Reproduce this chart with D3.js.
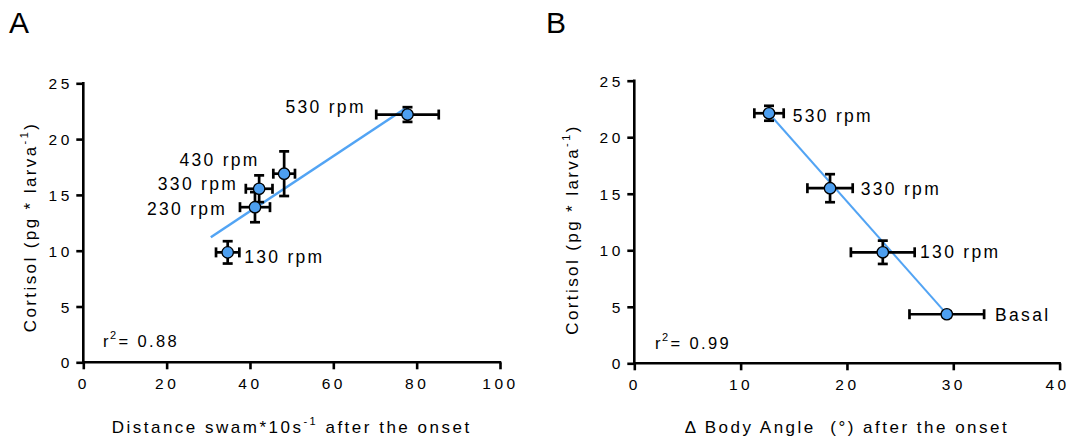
<!DOCTYPE html>
<html>
<head>
<meta charset="utf-8">
<script src="https://cdn.jsdelivr.net/npm/d3@7"></script>
<style>
  html, body { margin: 0; padding: 0; background: #fff; }
  svg { display: block; font-family: "Liberation Sans", Arial, Helvetica, sans-serif; }
</style>
</head>
<body>
<svg id="chart" width="1070" height="441"></svg>
<script>
// ---------------- DATA ----------------
// Panel A: distance swam vs cortisol
const labelsA   = ["130 rpm", "230 rpm", "330 rpm", "430 rpm", "530 rpm"];
const distA     = [34.65, 41.2, 42.2, 48.2, 77.8];
const distErrA  = [2.8, 3.6, 3.2, 2.6, 7.5];
const cortA     = [9.85, 13.9, 15.55, 16.9, 22.2];
const cortErrA  = [1.0, 1.35, 1.2, 2.0, 0.66];
const fitXA     = [30.6, 77.7];
const fitYA     = [11.2, 22.85];
const r2A       = "0.88";

// Panel B: delta body angle vs cortisol
const labelsB   = ["530 rpm", "330 rpm", "130 rpm", "Basal"];
const angleB    = [12.67, 18.41, 23.37, 29.39];
const angleErrB = [1.38, 2.13, 3.0, 3.51];
const cortB     = [22.12, 15.49, 9.82, 4.34];
const cortErrB  = [0.66, 1.24, 1.03, 0.25];
const fitXB     = [12.67, 29.39];
const fitYB     = [22.1, 4.35];
const r2B       = "0.99";

// Tick values
const yTicks  = [0, 5, 10, 15, 20, 25];
const xTicksA = [0, 20, 40, 60, 80, 100];
const xTicksB = [0, 10, 20, 30, 40];

// ---------------- LAYOUT ----------------
const svg = d3.select("#chart");
const FONT = '"Liberation Sans", Arial, Helvetica, sans-serif';
const MARKER = "#4d9ff0";
const LINE = "#52a4f4";

const panels = [
  {
    letter: "A", letterX: 9, letterY: 33.3,
    x: d3.scaleLinear().domain([0, 100]).range([83.3, 500]),
    y: d3.scaleLinear().domain([0, 25]).range([362.3, 83.3]),
    xTicks: xTicksA,
    xs: distA, xe: distErrA, ys: cortA, ye: cortErrA, labels: labelsA,
    fitX: fitXA, fitY: fitYA, fitW: 2.5, r2: r2A,
    r2X: 103, r2Y: 346.7,
    labelPos: [
      {anchor: "start", dx: 16.5, dy: 10.3},
      {anchor: "end", dx: -30, dy: 8.3},
      {anchor: "end", dx: -23.3, dy: 1},
      {anchor: "end", dx: -26.7, dy: -7.6},
      {anchor: "end", dx: -44, dy: -1.6}
    ],
    yTitleX: 35.5, yTitleY: 227,
    lastTickShift: 0,
    xTitle: [{t: "Distance swam*10s"}, {t: "-1", sup: true}, {t: " after the onset"}]
  },
  {
    letter: "B", letterX: 546, letterY: 33.3,
    x: d3.scaleLinear().domain([0, 40]).range([634.3, 1059.6]),
    y: d3.scaleLinear().domain([0, 25]).range([363.3, 80.7]),
    xTicks: xTicksB,
    xs: angleB, xe: angleErrB, ys: cortB, ye: cortErrB, labels: labelsB,
    fitX: fitXB, fitY: fitYB, fitW: 2, r2: r2B,
    r2X: 655, r2Y: 349.3,
    labelPos: [
      {anchor: "start", dx: 23.7, dy: 9},
      {anchor: "start", dx: 30.7, dy: 6.7},
      {anchor: "start", dx: 37.3, dy: 6},
      {anchor: "start", dx: 48.3, dy: 6.4}
    ],
    yTitleX: 577.5, yTitleY: 229.5,
    lastTickShift: -2.5,
    xTitle: [{t: "\u0394 Body Angle\u00a0\u00a0(\u00b0) after the onset"}]
  }
];

const AXW = 2.6;
const LBL_SP = 2.3;
const TICK_SP = 3.5;

panels.forEach(p => {
  const g = svg.append("g");
  const [x0, x1] = p.x.range();
  const [y0, y1] = p.y.range();

  // panel letter
  svg.append("text")
    .attr("x", p.letterX).attr("y", p.letterY)
    .attr("font-size", 30).attr("fill", "#000")
    .text(p.letter);

  // axes
  const yAxis = d3.axisLeft(p.y).tickValues(yTicks).tickSize(7).tickPadding(7).tickFormat(d3.format("d"));
  const xAxis = d3.axisBottom(p.x).tickValues(p.xTicks).tickSize(7).tickPadding(9).tickFormat(d3.format("d"));

  const gy = g.append("g").attr("transform", `translate(${x0},0)`).call(yAxis);
  const gx = g.append("g").attr("transform", `translate(0,${y0})`).call(xAxis);

  [gx, gy].forEach(ax => {
    ax.select(".domain").remove();
    ax.selectAll(".tick line").attr("stroke", "#000").attr("stroke-width", AXW);
    ax.selectAll(".tick text")
      .attr("font-family", FONT).attr("font-size", 15.5).attr("fill", "#000")
      .attr("letter-spacing", TICK_SP);
  });
  gy.selectAll(".tick text").attr("dx", TICK_SP).attr("dy", "0.36em");
  const xtt = gx.selectAll(".tick text").nodes();
  d3.select(xtt[xtt.length - 1]).attr("dx", p.lastTickShift);

  // axis lines
  g.append("line").attr("x1", x0).attr("x2", x0).attr("y1", y1 - AXW / 2).attr("y2", y0 + AXW / 2)
    .attr("stroke", "#000").attr("stroke-width", AXW);
  g.append("line").attr("x1", x0 - AXW / 2).attr("x2", x1 + AXW / 2).attr("y1", y0).attr("y2", y0)
    .attr("stroke", "#000").attr("stroke-width", AXW);

  // regression line
  const fitPts = p.fitX.map((v, i) => [v, p.fitY[i]]);
  g.append("path")
    .datum(fitPts)
    .attr("d", d3.line().x(d => p.x(d[0])).y(d => p.y(d[1])))
    .attr("fill", "none").attr("stroke", LINE).attr("stroke-width", p.fitW);

  const pts = p.xs.map((v, i) => ({x: v, y: p.ys[i], xe: p.xe[i], ye: p.ye[i], label: p.labels[i], pos: p.labelPos[i]}));
  const CAP = 5;
  const EW = 2.7;

  // error bars
  const eb = g.append("g").attr("stroke", "#000").attr("stroke-width", EW).attr("fill", "none");
  pts.forEach(d => {
    const cx = p.x(d.x), cy = p.y(d.y);
    const xl = p.x(d.x - d.xe), xr = p.x(d.x + d.xe);
    const yt = p.y(d.y + d.ye), yb = p.y(d.y - d.ye);
    eb.append("line").attr("x1", xl).attr("x2", xr).attr("y1", cy).attr("y2", cy);
    eb.append("line").attr("x1", xl).attr("x2", xl).attr("y1", cy - CAP).attr("y2", cy + CAP);
    eb.append("line").attr("x1", xr).attr("x2", xr).attr("y1", cy - CAP).attr("y2", cy + CAP);
    eb.append("line").attr("x1", cx).attr("x2", cx).attr("y1", yt).attr("y2", yb);
    eb.append("line").attr("x1", cx - CAP).attr("x2", cx + CAP).attr("y1", yt).attr("y2", yt);
    eb.append("line").attr("x1", cx - CAP).attr("x2", cx + CAP).attr("y1", yb).attr("y2", yb);
  });

  // markers
  g.append("g").selectAll("circle").data(pts).join("circle")
    .attr("cx", d => p.x(d.x)).attr("cy", d => p.y(d.y)).attr("r", 5.7)
    .attr("fill", MARKER).attr("stroke", "#000").attr("stroke-width", 1.3);

  // point labels
  g.append("g").selectAll("text").data(pts).join("text")
    .attr("x", d => p.x(d.x) + d.pos.dx + (d.pos.anchor === "end" ? LBL_SP : 0))
    .attr("y", d => p.y(d.y) + d.pos.dy)
    .attr("text-anchor", d => d.pos.anchor)
    .attr("font-size", 17.5).attr("letter-spacing", LBL_SP).attr("fill", "#000")
    .text(d => d.label);

  // r^2
  const r2 = g.append("text").attr("x", p.r2X).attr("y", p.r2Y)
    .attr("font-size", 16.5).attr("letter-spacing", 2.4).attr("fill", "#000");
  r2.append("tspan").text("r");
  r2.append("tspan").attr("font-size", 11).attr("dy", -8).attr("dx", -1).text("2");
  r2.append("tspan").attr("dy", 8).text("= " + p.r2);

  // y title
  const yt = g.append("text")
    .attr("transform", `translate(${p.yTitleX},${p.yTitleY}) rotate(-90)`)
    .attr("text-anchor", "middle").attr("font-size", 17).attr("letter-spacing", 2.4).attr("fill", "#000");
  yt.append("tspan").text("Cortisol (pg * larva");
  yt.append("tspan").attr("font-size", 11).attr("dy", -8).text("-1");
  yt.append("tspan").attr("dy", 8).text(")");

  // x title
  const xt = g.append("text")
    .attr("x", (x0 + x1) / 2).attr("y", 432.5)
    .attr("text-anchor", "middle").attr("font-size", 17).attr("letter-spacing", 2.5).attr("fill", "#000");
  let lastSup = false;
  p.xTitle.forEach(part => {
    const ts = xt.append("tspan").text(part.t);
    if (part.sup) { ts.attr("font-size", 11).attr("dy", -8); lastSup = true; }
    else if (lastSup) { ts.attr("dy", 8); lastSup = false; }
  });
});
</script>
</body>
</html>
